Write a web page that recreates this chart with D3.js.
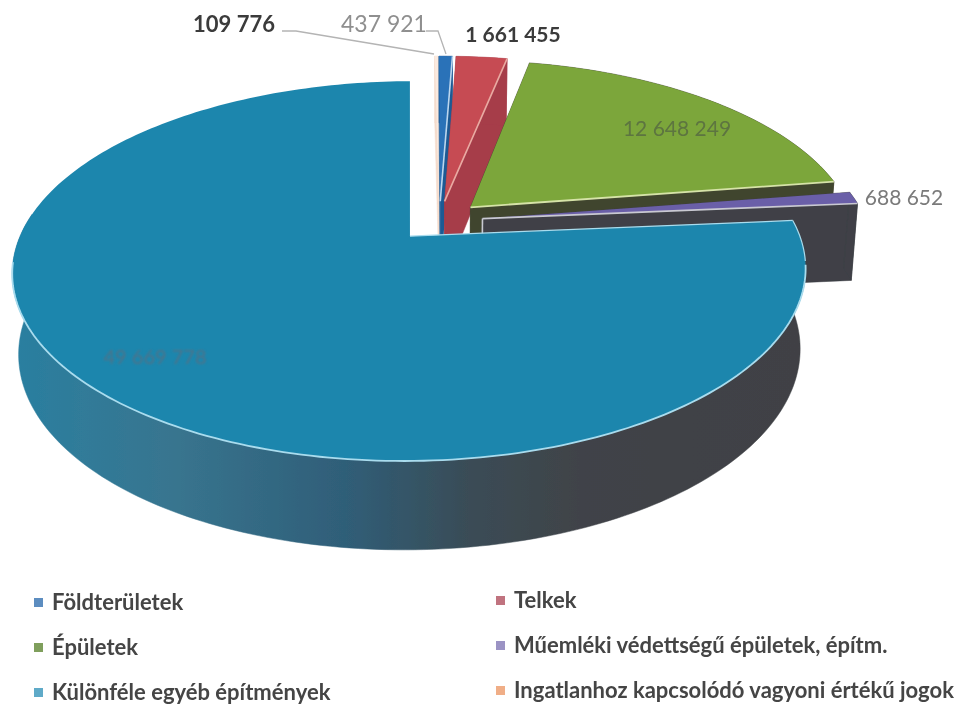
<!DOCTYPE html>
<html lang="hu">
<head>
<meta charset="utf-8">
<script src="https://cdnjs.cloudflare.com/ajax/libs/d3/7.8.5/d3.min.js"></script>
<style>html,body{margin:0;padding:0;background:#fff}svg{display:block}</style>
</head>
<body>
<script>
const categories = ["Földterületek","Telkek","Épületek","Műemléki védettségű épületek, építm.","Különféle egyéb építmények","Ingatlanhoz kapcsolódó vagyoni értékű jogok"];
const values = [437921,1661455,12648249,688652,49669778,109776];
const faceColors = ["#2b72b8","#c64b52","#7ba63a","#6b5fa8","#1e86ad","#fbeadf"];
const wallColors = ["#1f5a94","#a63c4a","#40452f","#3f4046","url(#tealWall)","#f5dccd"];
const edgeColors = ["#bcd6ee","#e9aaa2","#d6e3a8","#c9c9d2","#a9dcee","#f7d5bf"];
const legendColors = ["#5b8dc0","#c0737f","#7f9f5b","#9b93c4","#5faac8","#f0ae87"];

const W = 956, H = 704;
const cx = 439.5, cy = 221, R = 384, A = 178, k = 0.181, shrink = 0.985, explode = 0.113;
const depthBase = 78, depthSlope = 10;
const startDeg = -0.2;

const svg = d3.select("body").append("svg").attr("width", W).attr("height", H);
const defs = svg.append("defs");
const grad = defs.append("linearGradient").attr("id","tealWall").attr("gradientUnits","userSpaceOnUse")
  .attr("x1",15).attr("x2",800).attr("y1",0).attr("y2",0);
[[0,"#2a7fa0"],[0.2,"#38758f"],[0.42,"#2f5e78"],[0.58,"#3a4c56"],[0.72,"#404348"],[1,"#3f4145"]]
  .forEach(([o,c]) => grad.append("stop").attr("offset",o).attr("stop-color",c));
defs.append("filter").attr("id","scan").append("feGaussianBlur").attr("stdDeviation",0.45);
defs.append("filter").attr("id","smear").append("feGaussianBlur").attr("stdDeviation",1.1);

function project(u, v, low) {
  const d = 1 + k * v;
  let x = cx + R * u / d, y = cy - A * v / d;
  if (low) { x = cx + (x - cx) * shrink; y += depthBase - depthSlope * v; }
  return [x, y];
}
const pie = d3.pie().sort(null).startAngle(startDeg * Math.PI / 180).endAngle(startDeg * Math.PI / 180 + 2 * Math.PI);
const arcs = pie(values);
const line = d3.line();

function sliceGeom(a) {
  const mid = (a.startAngle + a.endAngle) / 2;
  const ou = explode * Math.sin(mid), ov = explode * Math.cos(mid);
  const n = Math.max(2, Math.ceil((a.endAngle - a.startAngle) / 0.02));
  const angles = d3.range(n + 1).map(i => a.startAngle + (a.endAngle - a.startAngle) * i / n);
  const rim = angles.map(t => [ou + Math.sin(t), ov + Math.cos(t)]);
  return {ou, ov, rim};
}
const chart = svg.append("g").attr("filter","url(#scan)");
const drawOrder = [5,0,1,2,3,4];
drawOrder.forEach(i => {
  const g = sliceGeom(arcs[i]);
  const topRim = g.rim.map(p => project(p[0], p[1], false));
  const lowRim = g.rim.map(p => project(p[0], p[1], true));
  const apexT = project(g.ou, g.ov, false), apexL = project(g.ou, g.ov, true);
  const outer = topRim.concat(lowRim.slice().reverse());
  const frontRim = g.rim.filter(p => p[1] < 0.05);
  const tealOuter = frontRim.map(p => project(p[0], p[1], false))
    .concat(frontRim.map(p => project(p[0], p[1], true)).reverse());
  const walls = i === 4 ? [tealOuter] : [
    [apexT, topRim[0], lowRim[0], apexL],
    [apexT, topRim[topRim.length-1], lowRim[lowRim.length-1], apexL],
    outer
  ];
  walls.forEach(w => chart.append("path").attr("d", line(w) + "Z")
    .attr("fill", wallColors[i]).attr("stroke", wallColors[i]).attr("stroke-width", 0.5));
  chart.append("path").attr("d", line([apexT].concat(topRim)) + "Z").attr("fill", faceColors[i]);
  // pale rim and edges
  if (i === 4) {
    const front = topRim.filter(p => p[1] > 262);
    chart.append("path").attr("d", line(front)).attr("fill","none").attr("stroke",edgeColors[i]).attr("stroke-width",1.8);
    const rightEnd = topRim.slice(0, Math.ceil(topRim.length * 0.2)).filter(p => p[1] <= 262);
    chart.append("path").attr("d", line([apexT, topRim[0]])).attr("fill","none").attr("stroke",edgeColors[i]).attr("stroke-width",1.2);
    chart.append("path").attr("d", line(rightEnd)).attr("fill","none").attr("stroke",edgeColors[i]).attr("stroke-width",1.2);
  } else if (i !== 5) {
    chart.append("path").attr("d", line([apexT, topRim[topRim.length-1]])).attr("fill","none")
      .attr("stroke",edgeColors[i]).attr("stroke-width",i === 2 ? 1.8 : 1.6);
    if (i === 3) chart.append("path").attr("d", line([apexT, apexL])).attr("fill","none")
      .attr("stroke",edgeColors[i]).attr("stroke-width",1.6);
  }
});

const fmt = d3.formatLocale({decimal:",",thousands:" ",grouping:[3],currency:["",""]}).format(",d");
const valueLabels = [
  {i:0, x:384, y:32, fill:"#8f8f8f", size:23, weight:400, anchor:"middle"},
  {i:1, x:513, y:42, fill:"#3a3a3a", size:21, weight:700, anchor:"middle"},
  {i:2, x:677, y:136, fill:"#5d7440", size:21, weight:400, anchor:"middle"},
  {i:3, x:904, y:205, fill:"#7a7a7a", size:21, weight:400, anchor:"middle"},
  {i:4, x:155, y:364, fill:"#4f7288", size:20, weight:400, anchor:"middle", smear:true},
  {i:5, x:234, y:32, fill:"#3a3a3a", size:22, weight:700, anchor:"middle"}
];
const leaders = [
  [[426,31],[438,31],[446,54]],
  [[282,31],[296,31],[434,54]]
];
leaders.forEach(l => svg.append("path").attr("d", line(l)).attr("fill","none").attr("stroke","#b4b4b4").attr("stroke-width",1.3).attr("filter","url(#scan)"));
valueLabels.forEach(d => svg.append("text").attr("x",d.x).attr("y",d.y).attr("text-anchor",d.anchor)
  .attr("font-family","Lato, 'Open Sans', sans-serif").attr("font-size",d.size).attr("font-weight",d.weight)
  .attr("fill",d.fill).attr("filter",d.smear ? "url(#smear)" : "url(#scan)").text(fmt(values[d.i])));

const legendCols = [38, 500], legendRows = [603, 648, 693];
const legendLayout = [[0,0],[1,0],[0,1],[1,1],[0,2],[1,2]];
const legend = svg.append("g").attr("filter","url(#scan)");
categories.forEach((c, i) => {
  const [col,row] = legendLayout[i];
  const x = legendCols[col], y = legendRows[row] - (col ? 2 : 0);
  legend.append("rect").attr("x",x-4).attr("y",y-5).attr("width",9).attr("height",9).attr("fill",legendColors[i]);
  legend.append("text").attr("x",x+14).attr("y",y+7).attr("font-family","Lato, 'Open Sans', sans-serif")
    .attr("font-size",22).attr("font-weight",700).attr("fill","#444").text(c);
});
</script>
</body>
</html>
